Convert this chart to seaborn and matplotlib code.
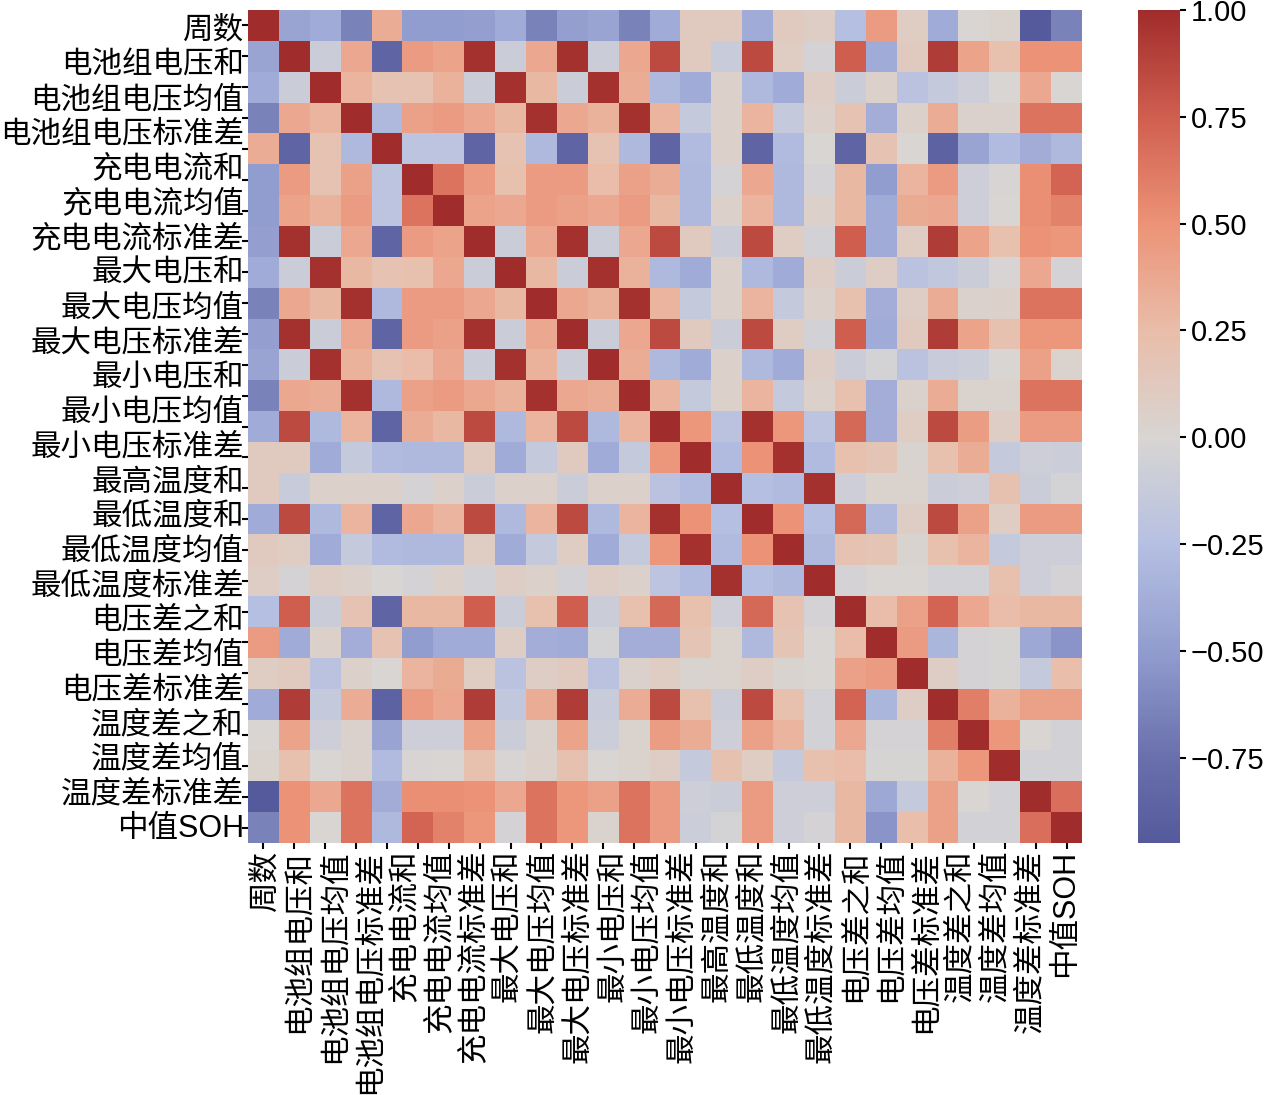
import numpy as np
import seaborn as sns
import matplotlib.pyplot as plt
from matplotlib.colors import LinearSegmentedColormap

# 24 axis labels (the matrix itself has 27 cells per side)
labels = ["周数", "电池组电压和", "电池组电压均值", "电池组电压标准差",
          "充电电流和", "充电电流均值", "充电电流标准差",
          "最大电压和", "最大电压均值", "最大电压标准差",
          "最小电压和", "最小电压均值", "最小电压标准差",
          "最高温度和", "最低温度和", "最低温度均值", "最低温度标准差",
          "电压差之和", "电压差均值", "电压差标准差",
          "温度差之和", "温度差均值", "温度差标准差", "中值SOH"]

# lower triangle of the correlation matrix
corr_lower = [
    [1],
    [-0.45, 1],
    [-0.4, -0.1, 1],
    [-0.65, 0.38, 0.3, 1],
    [0.35, -0.85, 0.2, -0.3, 1],
    [-0.5, 0.45, 0.2, 0.42, -0.2, 1],
    [-0.5, 0.4, 0.32, 0.45, -0.2, 0.65, 1],
    [-0.48, 0.97, -0.1, 0.38, -0.85, 0.45, 0.4, 1],
    [-0.4, -0.1, 0.97, 0.28, 0.2, 0.22, 0.38, -0.1, 1],
    [-0.65, 0.38, 0.28, 0.97, -0.3, 0.45, 0.45, 0.38, 0.28, 1],
    [-0.48, 0.97, -0.1, 0.38, -0.85, 0.45, 0.42, 0.97, -0.1, 0.38, 1],
    [-0.45, -0.1, 0.97, 0.32, 0.2, 0.25, 0.38, -0.1, 0.97, 0.32, -0.1, 1],
    [-0.65, 0.38, 0.35, 0.97, -0.3, 0.42, 0.45, 0.38, 0.32, 0.97, 0.38, 0.35, 1],
    [-0.4, 0.85, -0.3, 0.3, -0.85, 0.35, 0.28, 0.85, -0.3, 0.3, 0.85, -0.3, 0.3, 1],
    [0.12, 0.12, -0.4, -0.15, -0.28, -0.3, -0.3, 0.12, -0.4, -0.15, 0.12, -0.4, -0.15,
     0.48, 1],
    [0.12, -0.12, 0.05, 0.05, 0.05, -0.03, 0.05, -0.1, 0.05, 0.05, -0.1, 0.05, 0.05,
     -0.22, -0.28, 1],
    [-0.4, 0.85, -0.3, 0.3, -0.85, 0.38, 0.3, 0.85, -0.3, 0.3, 0.85, -0.3, 0.3,
     0.97, 0.5, -0.25, 1],
    [0.12, 0.1, -0.4, -0.15, -0.28, -0.3, -0.3, 0.1, -0.4, -0.15, 0.1, -0.4, -0.15,
     0.48, 0.97, -0.28, 0.5, 1],
    [0.08, -0.03, 0.08, 0.05, 0.0, -0.03, 0.05, -0.05, 0.08, 0.05, -0.05, 0.08, 0.05,
     -0.2, -0.28, 0.97, -0.25, -0.3, 1],
    [-0.25, 0.75, -0.1, 0.2, -0.85, 0.28, 0.28, 0.75, -0.1, 0.22, 0.75, -0.1, 0.22,
     0.7, 0.22, -0.08, 0.7, 0.2, -0.03, 1],
    [0.45, -0.4, 0.05, -0.38, 0.2, -0.5, -0.4, -0.4, 0.08, -0.38, -0.4, -0.04, -0.38,
     -0.38, 0.18, 0.03, -0.3, 0.18, 0.0, 0.25, 1],
    [0.1, 0.12, -0.22, 0.05, 0.0, 0.3, 0.36, 0.1, -0.22, 0.08, 0.11, -0.22, 0.04,
     0.1, 0.02, 0.03, 0.08, 0.02, 0.0, 0.42, 0.45, 1],
    [-0.4, 0.92, -0.15, 0.35, -0.88, 0.45, 0.38, 0.92, -0.17, 0.35, 0.92, -0.12, 0.35,
     0.85, 0.22, -0.1, 0.85, 0.22, -0.05, 0.72, -0.32, 0.08, 1],
    [0.0, 0.4, -0.08, 0.04, -0.45, -0.08, -0.08, 0.4, -0.1, 0.04, 0.4, -0.09, 0.03,
     0.44, 0.35, -0.08, 0.42, 0.3, -0.05, 0.38, -0.03, -0.03, 0.6, 1],
    [0.03, 0.22, 0.0, 0.04, -0.28, -0.01, 0.0, 0.22, -0.01, 0.05, 0.21, 0.0, 0.03,
     0.08, -0.15, 0.21, 0.1, -0.15, 0.22, 0.25, -0.02, -0.02, 0.32, 0.48, 1],
    [-0.95, 0.5, 0.38, 0.65, -0.39, 0.52, 0.52, 0.5, 0.38, 0.65, 0.48, 0.42, 0.65,
     0.45, -0.08, -0.1, 0.45, -0.08, -0.08, 0.28, -0.42, -0.15, 0.42, 0.0, -0.05, 1],
    [-0.65, 0.5, 0.0, 0.65, -0.3, 0.72, 0.58, 0.48, -0.03, 0.65, 0.48, 0.03, 0.65,
     0.45, -0.09, -0.04, 0.45, -0.08, -0.03, 0.28, -0.55, 0.24, 0.42, -0.05, -0.05,
     0.68, 1],
]

n = len(corr_lower)
corr = np.zeros((n, n))
for i, row in enumerate(corr_lower):
    corr[i, :len(row)] = row
    corr[:len(row), i] = row

plt.rcParams['font.family'] = ['Liberation Sans', 'Noto Sans CJK SC']

# muted coolwarm-like map, colours picked from the reference colour bar
vmin, vmax = corr.min(), corr.max()
stops = [-0.95, -0.75, -0.5, -0.25, 0.0, 0.25, 0.5, 0.75, 1.0]
stop_colors = ["#555a9c", "#6a70ac", "#929dcf", "#b6c0e2", "#d8d5d2",
               "#e9bda9", "#ec9377", "#d05f50", "#a12c2c"]
cmap = LinearSegmentedColormap.from_list(
    "muted_coolwarm",
    [((s - vmin) / (vmax - vmin), c) for s, c in zip(stops, stop_colors)])

W, H = 1268, 1095
fig = plt.figure(figsize=(W / 100, H / 100), dpi=100)
ax = fig.add_axes([248 / W, 1 - 843 / H, 834 / W, 833 / H])
cax = fig.add_axes([1138 / W, 1 - 843 / H, 42 / W, 833 / H])

sns.heatmap(corr, ax=ax, cbar_ax=cax, cmap=cmap, vmin=vmin, vmax=vmax,
            xticklabels=False, yticklabels=False)

# one tick per cell, labels spread evenly over the full side
cell_pos = np.arange(n) + 0.5
ax.set_xticks(cell_pos)
ax.set_yticks(cell_pos)
ax.set_xticklabels([])
ax.set_yticklabels([])
lab_pos = (np.arange(len(labels)) + 0.5) * n / len(labels)
ax.set_xticks(lab_pos, minor=True)
ax.set_xticklabels(labels, minor=True, rotation=90, fontsize=22)
ax.set_yticks(lab_pos, minor=True)
ax.set_yticklabels(labels, minor=True, rotation=0, fontsize=22)
ax.tick_params(which='major', length=4, width=1.5, color='black')
ax.tick_params(which='minor', length=0)
ax.tick_params(axis='x', which='minor', pad=5)
ax.tick_params(axis='y', which='minor', pad=3)

cax.set_yticks([-0.75, -0.5, -0.25, 0.0, 0.25, 0.5, 0.75, 1.0])
cax.set_yticklabels(["\u22120.75", "\u22120.50", "\u22120.25", "0.00",
                     "0.25", "0.50", "0.75", "1.00"])
cax.tick_params(labelsize=21, length=4, width=1.5, color='black')

fig.savefig("out.png", dpi=100)
